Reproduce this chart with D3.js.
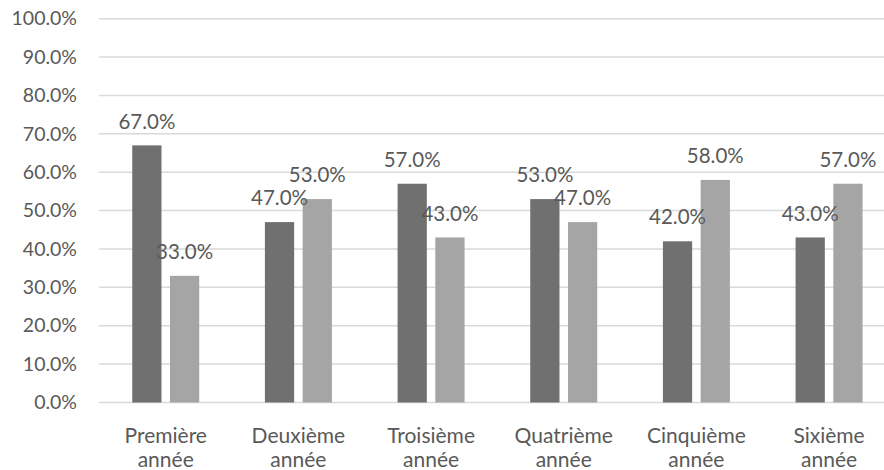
<!DOCTYPE html>
<html>
<head>
<meta charset="utf-8">
<script src="https://cdn.jsdelivr.net/npm/d3@7"></script>
<style>
  html, body { margin: 0; padding: 0; background: #ffffff; }
  svg { display: block; }
  text { font-family: Lato, "Open Sans", sans-serif; fill: #595959; }
</style>
</head>
<body>
<svg id="chart" width="884" height="470"></svg>
<script>
// Year levels (two-line labels)
const categories = [
  ["Première", "année"],
  ["Deuxième", "année"],
  ["Troisième", "année"],
  ["Quatrième", "année"],
  ["Cinquième", "année"],
  ["Sixième", "année"]
];
const seriesNames = ["Série 1", "Série 2"];
const series1 = [0.67, 0.47, 0.57, 0.53, 0.42, 0.43];
const series2 = [0.33, 0.53, 0.43, 0.47, 0.58, 0.57];
const yTicks = [0, 0.1, 0.2, 0.3, 0.4, 0.5, 0.6, 0.7, 0.8, 0.9, 1.0];
const colors = ["#707070", "#a5a5a5"];

const svg = d3.select("#chart");
const catKeys = categories.map(c => c.join(" "));

const y = d3.scaleLinear().domain([0, 1]).range([402.5, 18.7]);
const x0 = d3.scaleBand().domain(catKeys).range([99.4, 895.4]).padding(0);
const x1 = d3.scaleBand().domain(seriesNames).range([0, x0.bandwidth()])
  .paddingInner(0.225).paddingOuter(0.87);

const fmt = d3.format(".1%");

// Horizontal gridlines
svg.append("g").selectAll("line").data(yTicks).join("line")
  .attr("x1", 99).attr("x2", 884)
  .attr("y1", d => y(d)).attr("y2", d => y(d))
  .attr("stroke", "#d9d9d9").attr("stroke-width", 1.5);

// Y axis labels
const yAxis = d3.axisLeft(y).tickValues(yTicks).tickFormat(fmt).tickSize(0).tickPadding(0);
const yg = svg.append("g").attr("transform", "translate(77,0)").call(yAxis);
yg.select(".domain").remove();
yg.selectAll("text").attr("font-size", 19.5).attr("font-family", null).attr("fill", "#595959");

// Bars
const data = catKeys.map((k, i) => ({ key: k, values: [series1[i], series2[i]] }));
const groups = svg.append("g").selectAll("g").data(data).join("g")
  .attr("transform", d => `translate(${x0(d.key)},0)`);

groups.selectAll("rect").data(d => d.values.map((v, j) => ({ s: seriesNames[j], v, j })))
  .join("rect")
  .attr("x", d => x1(d.s)).attr("width", x1.bandwidth())
  .attr("y", d => y(d.v)).attr("height", d => y(0) - y(d.v))
  .attr("fill", d => colors[d.j]);

// Value labels
groups.selectAll("text.val").data(d => d.values.map((v, j) => ({ s: seriesNames[j], v, j })))
  .join("text").attr("class", "val")
  .attr("x", d => x1(d.s) + x1.bandwidth() / 2)
  .attr("y", d => y(d.v) - 24)
  .attr("dy", "0.35em")
  .attr("text-anchor", "middle")
  .attr("font-size", 20.5)
  .text(d => fmt(d.v));

// Category labels
const xl = svg.append("g").selectAll("text").data(categories).join("text")
  .attr("text-anchor", "middle")
  .attr("font-size", 21)
  .attr("x", (d, i) => x0(catKeys[i]) + x0.bandwidth() / 2)
  .attr("y", 435.5);
xl.selectAll("tspan").data(d => d).join("tspan")
  .attr("x", function () { return this.parentNode.getAttribute("x"); })
  .attr("dy", (d, i) => i === 0 ? "0.35em" : "24.5")
  .text(d => d);
</script>
</body>
</html>
